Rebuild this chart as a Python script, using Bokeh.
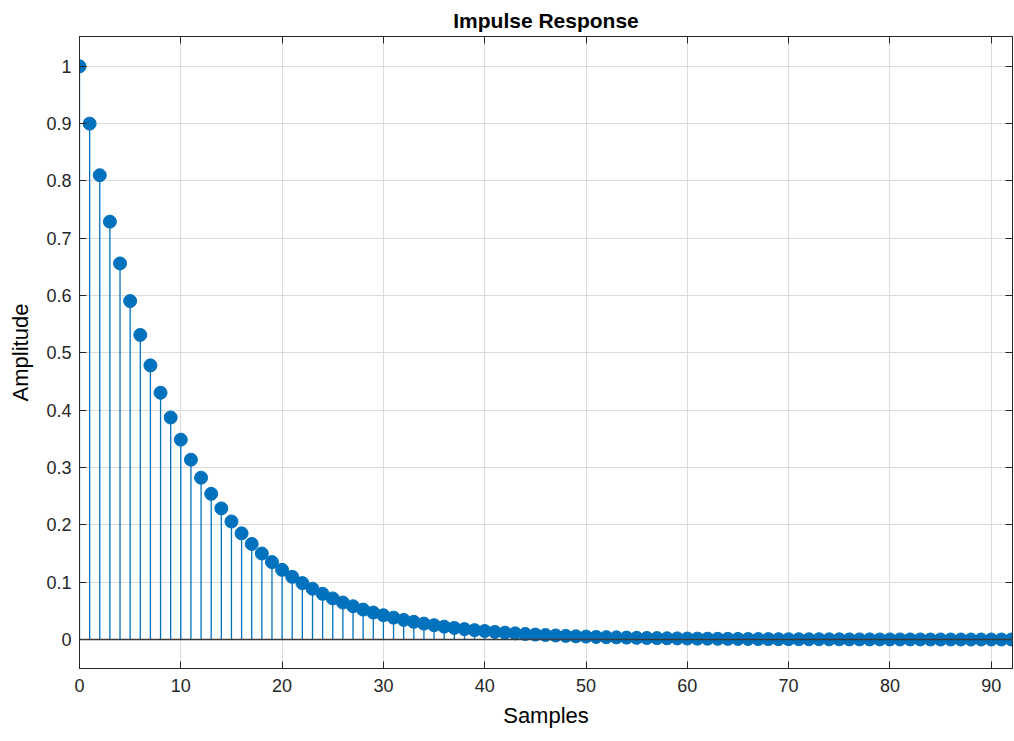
from bokeh.plotting import figure
from bokeh.models import ColumnDataSource, Range1d, LinearAxis, FixedTicker, Span, Title
from bokeh.embed import file_html
from bokeh.resources import INLINE

# Data
samples = list(range(93))
amplitude = [
    1.0, 0.9, 0.81, 0.729, 0.6561, 0.5905, 0.5314, 0.4783, 0.4305, 0.3874,
    0.3487, 0.3138, 0.2824, 0.2542, 0.2288, 0.2059, 0.1853, 0.1668, 0.1501, 0.1351,
    0.1216, 0.1094, 0.0985, 0.0886, 0.0798, 0.0718, 0.0646, 0.0581, 0.0523, 0.0471,
    0.0424, 0.0382, 0.0343, 0.0309, 0.0278, 0.0250, 0.0225, 0.0203, 0.0182, 0.0164,
    0.0148, 0.0133, 0.0120, 0.0108, 0.0097, 0.0087, 0.0079, 0.0071, 0.0064, 0.0057,
    0.0052, 0.0046, 0.0042, 0.0038, 0.0034, 0.0030, 0.0027, 0.0025, 0.0022, 0.0020,
    0.0018, 0.0016, 0.0015, 0.0013, 0.0012, 0.0011, 0.0010, 0.0009, 0.0008, 0.0007,
    0.0006, 0.0006, 0.0005, 0.0005, 0.0004, 0.0004, 0.0003, 0.0003, 0.0003, 0.0002,
    0.0002, 0.0002, 0.0002, 0.0002, 0.0001, 0.0001, 0.0001, 0.0001, 0.0001, 0.0001,
    0.0001, 0.0001, 0.0001,
]
x_ticks = [0, 10, 20, 30, 40, 50, 60, 70, 80, 90]
y_ticks = [0, 0.1, 0.2, 0.3, 0.4, 0.5, 0.6, 0.7, 0.8, 0.9, 1.0]
y_tick_labels = {0: "0", 0.1: "0.1", 0.2: "0.2", 0.3: "0.3", 0.4: "0.4", 0.5: "0.5",
                 0.6: "0.6", 0.7: "0.7", 0.8: "0.8", 0.9: "0.9", 1.0: "1"}

FONT = "Liberation Sans"
AX = "#262626"
STEM = "#0072BD"

src = ColumnDataSource(dict(x=samples, y=amplitude, base=[0] * len(samples)))

p = figure(width=1014, height=741, output_backend="svg", toolbar_location=None,
           x_range=Range1d(0, 92.1), y_range=Range1d(-0.0505, 1.052),
           min_border_left=79, min_border_right=2, min_border_top=36, min_border_bottom=73)

p.title = Title(text="Impulse Response", align="center", text_font=FONT,
                text_font_size="21px", text_font_style="bold", text_color="#000000",
                standoff=9)

p.xaxis.axis_label = "Samples"
p.yaxis.axis_label = "Amplitude"

for ax in [p.xaxis[0], p.yaxis[0]]:
    ax.axis_label_text_font = FONT
    ax.axis_label_text_font_size = "22px"
    ax.axis_label_text_font_style = "normal"
    ax.axis_label_text_color = "#000000"
    ax.major_label_text_font = FONT
    ax.major_label_text_font_size = "18px"
    ax.major_label_text_color = AX
    ax.axis_line_color = AX
    ax.major_tick_line_color = AX
    ax.major_tick_in = 7
    ax.major_tick_out = 0
    ax.minor_tick_line_color = None

p.xaxis.ticker = FixedTicker(ticks=x_ticks)
p.yaxis.ticker = FixedTicker(ticks=y_ticks)
p.yaxis.major_label_overrides = y_tick_labels
p.xaxis.major_label_standoff = 10
p.yaxis.major_label_standoff = 8
p.xaxis.axis_label_standoff = 8
p.yaxis.axis_label_standoff = 10

# top/right axes with ticks only
top = LinearAxis(ticker=FixedTicker(ticks=x_ticks),
                 major_label_overrides={t: "" for t in x_ticks},
                 major_tick_in=7, major_tick_out=0, major_label_standoff=0,
                 axis_line_color=AX, major_tick_line_color=AX, minor_tick_line_color=None)
right = LinearAxis(ticker=FixedTicker(ticks=y_ticks),
                   major_label_overrides={t: "" for t in y_ticks},
                   major_tick_in=7, major_tick_out=0, major_label_standoff=0,
                   axis_line_color=AX, major_tick_line_color=AX, minor_tick_line_color=None)
p.add_layout(top, "above")
p.add_layout(right, "right")

p.xgrid.ticker = FixedTicker(ticks=x_ticks)
p.ygrid.ticker = FixedTicker(ticks=y_ticks)
p.grid.grid_line_color = "#dcdcdc"
p.grid.grid_line_width = 1
p.outline_line_color = AX

p.segment(x0="x", y0="base", x1="x", y1="y", source=src, line_color=STEM, line_width=1.3)
p.scatter(x="x", y="y", source=src, size=13, fill_color=STEM, line_color=STEM)
p.add_layout(Span(location=0, dimension="width", line_color="#3a3a3a", line_width=1.6))

open("out.html", "w").write(file_html(p, INLINE))
